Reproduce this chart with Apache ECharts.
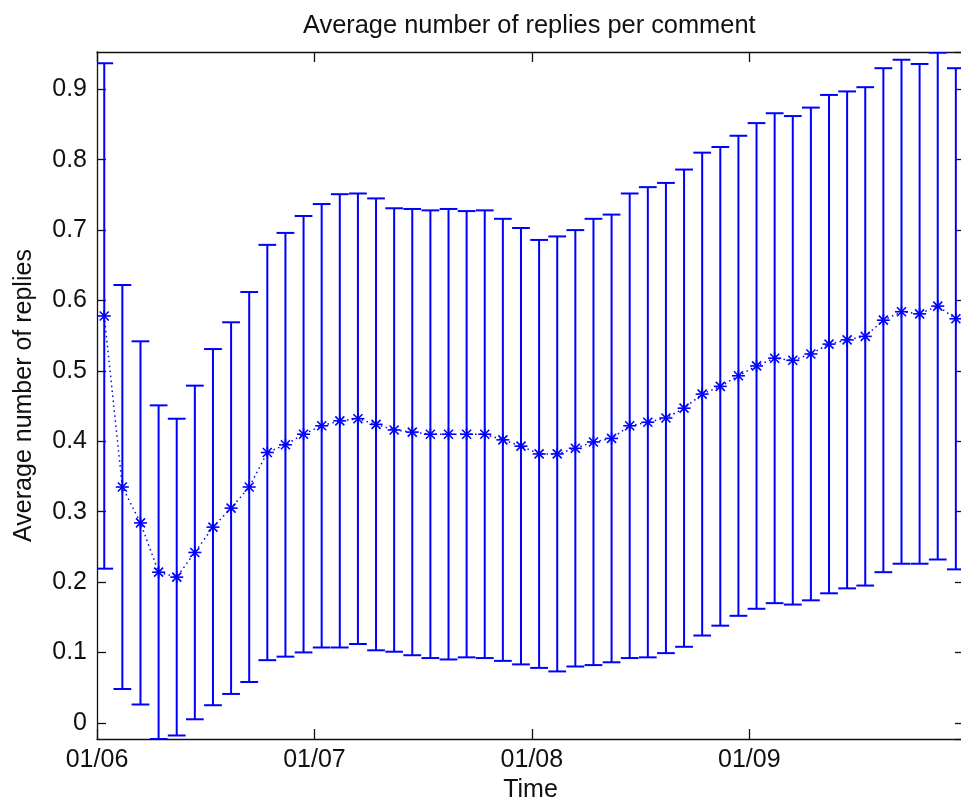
<!DOCTYPE html>
<html>
<head>
<meta charset="utf-8">
<script src="https://cdn.jsdelivr.net/npm/echarts@6/dist/echarts.min.js"></script>
<style>
  html, body { margin: 0; padding: 0; background: #fff; overflow: hidden; }
  #chart { width: 964px; height: 809px; }
</style>
</head>
<body>
<div id="chart"></div>
<script>
// time position of each sample, in twelfths of a month after 01/06
var times = [0.4, 1.4, 2.4, 3.4, 4.4, 5.4, 6.4, 7.4, 8.4, 9.4, 10.4, 11.4,
  12.4, 13.4, 14.4, 15.4, 16.4, 17.4, 18.4, 19.4, 20.4, 21.4, 22.4, 23.4,
  24.4, 25.4, 26.4, 27.4, 28.4, 29.4, 30.4, 31.4, 32.4, 33.4, 34.4, 35.4,
  36.4, 37.4, 38.4, 39.4, 40.4, 41.4, 42.4, 43.4, 44.4, 45.4, 46.4, 47.4];
// mean number of replies
var means = [0.578, 0.335, 0.284, 0.214, 0.207, 0.242, 0.278, 0.305, 0.335, 0.384, 0.395, 0.410,
  0.422, 0.429, 0.432, 0.424, 0.416, 0.413, 0.410, 0.410, 0.410, 0.410, 0.402, 0.393,
  0.382, 0.382, 0.390, 0.399, 0.404, 0.422, 0.427, 0.433, 0.447, 0.467, 0.478, 0.493,
  0.507, 0.518, 0.515, 0.524, 0.538, 0.544, 0.549, 0.572, 0.584, 0.581, 0.592, 0.574];
// half length of each error bar
var errs = [0.359, 0.287, 0.258, 0.237, 0.225, 0.237, 0.253, 0.264, 0.277, 0.295, 0.301, 0.310,
  0.315, 0.322, 0.320, 0.321, 0.315, 0.317, 0.318, 0.320, 0.317, 0.318, 0.314, 0.310,
  0.304, 0.309, 0.310, 0.317, 0.318, 0.330, 0.334, 0.334, 0.339, 0.343, 0.340, 0.341,
  0.345, 0.348, 0.347, 0.350, 0.354, 0.353, 0.354, 0.358, 0.358, 0.355, 0.360, 0.356];
var tickLabels = ['01/06', '01/07', '01/08', '01/09'];

var FONT = 'Liberation Sans, Arial, sans-serif';
var BLUE = '#0000ff';

var chart = echarts.init(document.getElementById('chart'));

var lineData = times.map(function (t, i) { return [t, means[i]]; });
var barData = times.map(function (t, i) { return [t, means[i], errs[i]]; });

function renderErrorBar(params, api) {
  var x = api.value(0), m = api.value(1), e = api.value(2);
  var top = api.coord([x, m + e]);
  var bot = api.coord([x, m - e]);
  var c = api.coord([x, m]);
  var hw = api.size([0.49, 0])[0];
  var barStyle = { stroke: BLUE, lineWidth: 2 };
  var starStyle = { stroke: BLUE, lineWidth: 1.6 };
  return {
    type: 'group',
    children: [
      { type: 'line', shape: { x1: top[0], y1: top[1], x2: bot[0], y2: bot[1] }, style: barStyle },
      { type: 'line', shape: { x1: top[0] - hw, y1: top[1], x2: top[0] + hw, y2: top[1] }, style: barStyle },
      { type: 'line', shape: { x1: bot[0] - hw, y1: bot[1], x2: bot[0] + hw, y2: bot[1] }, style: barStyle },
      // asterisk marker
      { type: 'line', shape: { x1: c[0] - 6.5, y1: c[1], x2: c[0] + 6.5, y2: c[1] }, style: starStyle },
      { type: 'line', shape: { x1: c[0], y1: c[1] - 6, x2: c[0], y2: c[1] + 6 }, style: starStyle },
      { type: 'line', shape: { x1: c[0] - 4.5, y1: c[1] - 4.5, x2: c[0] + 4.5, y2: c[1] + 4.5 }, style: starStyle },
      { type: 'line', shape: { x1: c[0] - 4.5, y1: c[1] + 4.5, x2: c[0] + 4.5, y2: c[1] - 4.5 }, style: starStyle }
    ]
  };
}

var axisLine = { show: true, onZero: false, lineStyle: { color: '#111', width: 1.3 } };
var tickStyle = { color: '#111', width: 1.3 };

chart.setOption({
  backgroundColor: '#fff',
  animation: false,
  title: {
    text: 'Average number of replies per comment',
    left: 298,
    top: 8,
    textStyle: { fontFamily: FONT, fontSize: 25.4, fontWeight: 'normal', color: '#111' }
  },
  // the plot's right border falls just outside the visible 961px
  grid: { left: 97, top: 52, right: 0, bottom: 70 },
  xAxis: [
    {
      type: 'value',
      position: 'bottom',
      min: 0,
      max: 47.85,
      interval: 12,
      name: 'Time',
      nameLocation: 'middle',
      nameGap: 39,
      nameTextStyle: { fontFamily: FONT, fontSize: 25, color: '#111', verticalAlign: 'top' },
      axisLine: axisLine,
      axisTick: { inside: true, length: 10, lineStyle: tickStyle },
      axisLabel: {
        showMaxLabel: false,
        margin: 9,
        fontFamily: FONT, fontSize: 25, color: '#111',
        formatter: function (v) { return tickLabels[Math.round(v / 12)] || ''; }
      },
      splitLine: { show: false }
    },
    {
      type: 'value',
      position: 'top',
      min: 0,
      max: 47.85,
      interval: 12,
      axisLine: axisLine,
      axisTick: { inside: true, length: 10, lineStyle: tickStyle },
      axisLabel: { show: false },
      splitLine: { show: false }
    }
  ],
  yAxis: [
    {
      type: 'value',
      position: 'left',
      min: -0.023,
      max: 0.953,
      splitNumber: 10,
      name: 'Average number of replies',
      nameLocation: 'middle',
      nameGap: 60,
      nameTextStyle: { fontFamily: FONT, fontSize: 25, color: '#111' },
      axisLine: axisLine,
      axisTick: { inside: true, length: 9, lineStyle: tickStyle },
      axisLabel: {
        showMinLabel: false,
        showMaxLabel: false,
        margin: 10,
        fontFamily: FONT, fontSize: 25, color: '#111',
        formatter: function (v) { return Math.abs(v) < 1e-9 ? '0' : String(+v.toFixed(1)); }
      },
      splitLine: { show: false }
    },
    {
      type: 'value',
      position: 'right',
      min: -0.023,
      max: 0.953,
      splitNumber: 10,
      axisLine: axisLine,
      axisTick: { inside: true, length: 9, lineStyle: tickStyle },
      axisLabel: { show: false },
      splitLine: { show: false }
    }
  ],
  series: [
    {
      type: 'line',
      data: lineData,
      showSymbol: false,
      z: 2,
      lineStyle: { color: BLUE, width: 1.5, type: [1.5, 3.5] }
    },
    {
      type: 'custom',
      data: barData,
      clip: true,
      z: 3,
      renderItem: renderErrorBar
    }
  ]
});
</script>
</body>
</html>
